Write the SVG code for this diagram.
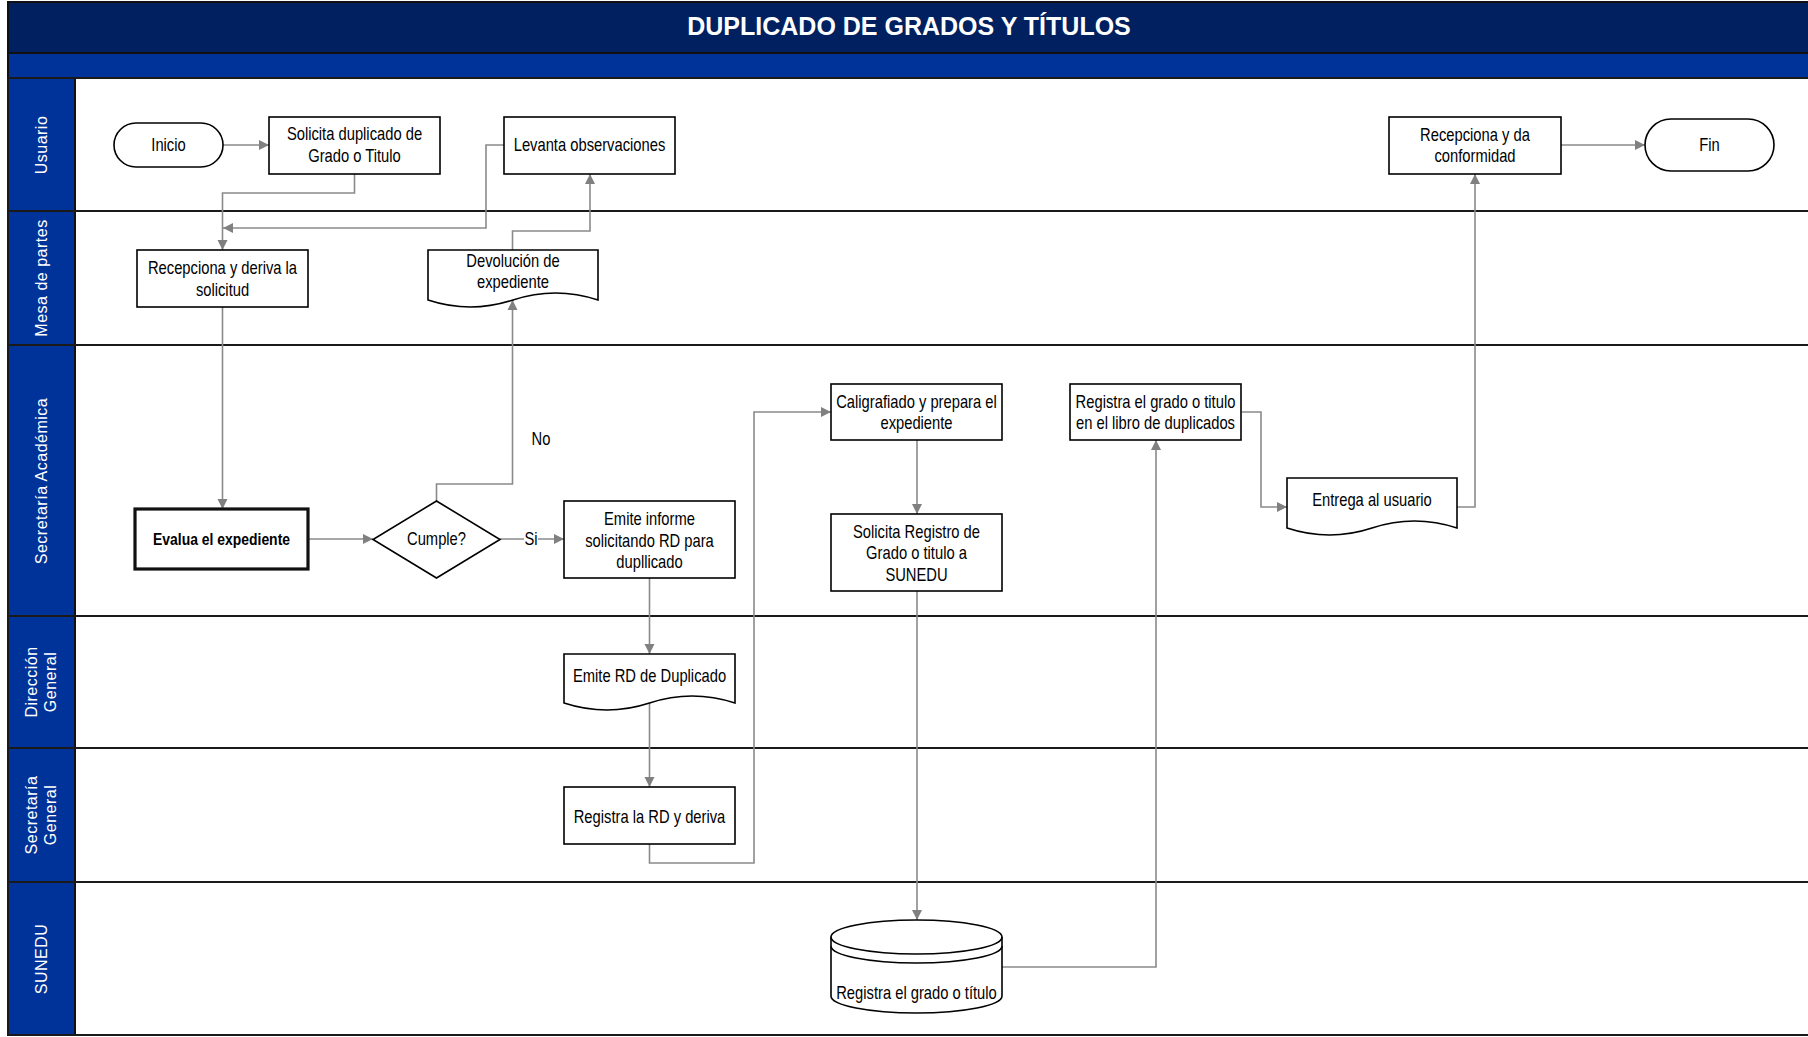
<svg xmlns="http://www.w3.org/2000/svg" width="1808" height="1037" viewBox="0 0 1808 1037">
<style>
.lane{fill:#ffffff;stroke:none}
.hdr{fill:#003399;stroke:#111;stroke-width:2}
.sep{stroke:#1a1a1a;stroke-width:2;fill:none}
.lbl{font-family:"Liberation Sans",Arial,sans-serif;font-size:16px;fill:#ffffff;letter-spacing:0.5px;text-anchor:middle}
.box{fill:#ffffff;stroke:#000;stroke-width:1.6}
.bold{fill:#ffffff;stroke:#111;stroke-width:3.2}
.t{font-family:"Liberation Sans",Arial,sans-serif;font-size:18px;fill:#000;text-anchor:middle}
.tb{font-family:"Liberation Sans",Arial,sans-serif;font-size:17px;font-weight:bold;fill:#000;text-anchor:middle}
.c{fill:none;stroke:#8a8a8a;stroke-width:1.6}
</style>
<defs>
<marker id="ar" markerUnits="userSpaceOnUse" markerWidth="12" markerHeight="12" viewBox="0 0 12 12" refX="11" refY="6" orient="auto">
<path d="M1,1 L11,6 L1,11 Z" fill="#808080"/>
</marker>
</defs>
<rect x="0" y="0" width="1808" height="1037" fill="#ffffff"/>
<g id="frame">
<rect x="8" y="2" width="1802" height="51" fill="#002060" stroke="#111" stroke-width="2"/>
<text x="909" y="35" font-family="'Liberation Sans',Arial,sans-serif" font-size="25" font-weight="bold" fill="#ffffff" text-anchor="middle">DUPLICADO DE GRADOS Y TÍTULOS</text>
<rect x="8" y="53" width="1802" height="25" fill="#003399" stroke="#111" stroke-width="2"/>
<rect x="8" y="78" width="1802" height="957" class="lane"/>
<rect x="8" y="78" width="67" height="133" class="hdr"/>
<rect x="8" y="211" width="67" height="134" class="hdr"/>
<rect x="8" y="345" width="67" height="271" class="hdr"/>
<rect x="8" y="616" width="67" height="132" class="hdr"/>
<rect x="8" y="748" width="67" height="134" class="hdr"/>
<rect x="8" y="882" width="67" height="153" class="hdr"/>
<path class="sep" d="M8 78H1808M8 211H1808M8 345H1808M8 616H1808M8 748H1808M8 882H1808M8 1035H1808M8 78V1035"/>
<text class="lbl" transform="translate(47,145) rotate(-90)">Usuario</text>
<text class="lbl" transform="translate(47,278) rotate(-90)">Mesa de partes</text>
<text class="lbl" transform="translate(47,481) rotate(-90)">Secretaría Académica</text>
<text class="lbl" transform="translate(37,682) rotate(-90)">Dirección</text>
<text class="lbl" transform="translate(56,682) rotate(-90)">General</text>
<text class="lbl" transform="translate(37,815) rotate(-90)">Secretaría</text>
<text class="lbl" transform="translate(56,815) rotate(-90)">General</text>
<text class="lbl" transform="translate(47,959) rotate(-90)">SUNEDU</text>
</g>
<g id="connectors">
<path class="c" d="M223 145H269" marker-end="url(#ar)"/>
<path class="c" d="M354.5 174V193H222.5V250" marker-end="url(#ar)"/>
<path class="c" d="M504 145H486V228H223" marker-end="url(#ar)"/>
<path class="c" d="M222.5 307V509" marker-end="url(#ar)"/>
<path class="c" d="M308 539H373" marker-end="url(#ar)"/>
<path class="c" d="M436.5 501V484H512.5V300" marker-end="url(#ar)"/>
<path class="c" d="M512.5 250V231H590V174" marker-end="url(#ar)"/>
<path class="c" d="M500 539H564" marker-end="url(#ar)"/>
<path class="c" d="M649.5 578V654" marker-end="url(#ar)"/>
<path class="c" d="M649.5 703V787" marker-end="url(#ar)"/>
<path class="c" d="M649.5 844V863H754V412H831" marker-end="url(#ar)"/>
<path class="c" d="M917 440V514" marker-end="url(#ar)"/>
<path class="c" d="M917 591V920" marker-end="url(#ar)"/>
<path class="c" d="M1002 967H1156V440" marker-end="url(#ar)"/>
<path class="c" d="M1241.5 412H1261V507H1287" marker-end="url(#ar)"/>
<path class="c" d="M1457 507H1475V174" marker-end="url(#ar)"/>
<path class="c" d="M1561 145H1645" marker-end="url(#ar)"/>
<rect x="524" y="528" width="14" height="22" fill="#ffffff"/>
<text class="t" transform="translate(531,545) scale(0.82,1)">Si</text>
<text class="t" transform="translate(541,445) scale(0.82,1)">No</text>
</g>
<g id="inicio">
<rect x="114" y="123" width="109" height="44" rx="22" class="box"/>
<text class="t" transform="translate(168.5,151) scale(0.82,1)">Inicio</text>
</g>
<g id="solicita">
<rect x="269" y="117" width="171" height="57" class="box"/>
<text class="t" transform="translate(354.5,140) scale(0.82,1)">Solicita duplicado de</text>
<text class="t" transform="translate(354.5,162) scale(0.82,1)">Grado o Titulo</text>
</g>
<g id="levanta">
<rect x="504" y="117" width="171" height="57" class="box"/>
<text class="t" transform="translate(589.5,151) scale(0.82,1)">Levanta observaciones</text>
</g>
<g id="recepciona">
<rect x="137" y="250" width="171" height="57" class="box"/>
<text class="t" transform="translate(222.5,274) scale(0.82,1)">Recepciona y deriva la</text>
<text class="t" transform="translate(222.5,296) scale(0.82,1)">solicitud</text>
</g>
<g id="devolucion">
<path class="box" d="M428 250H598V300Q555.5 286 513 300T428 300Z"/>
<text class="t" transform="translate(513,267) scale(0.82,1)">Devolución de</text>
<text class="t" transform="translate(513,288) scale(0.82,1)">expediente</text>
</g>
<g id="evalua">
<rect x="135" y="509" width="173" height="60" class="bold"/>
<text class="tb" transform="translate(221.5,545) scale(0.82,1)">Evalua el expediente</text>
</g>
<g id="cumple">
<path class="box" d="M436.5 501L500 539.5L436.5 578L373 539.5Z"/>
<text class="t" transform="translate(436.5,545) scale(0.82,1)">Cumple?</text>
</g>
<g id="emite-informe">
<rect x="564" y="501" width="171" height="77" class="box"/>
<text class="t" transform="translate(649.5,525) scale(0.82,1)">Emite informe</text>
<text class="t" transform="translate(649.5,547) scale(0.82,1)">solicitando RD para</text>
<text class="t" transform="translate(649.5,568) scale(0.82,1)">dupllicado</text>
</g>
<g id="emite-rd">
<path class="box" d="M564 654H735V703Q692 689 649.5 703T564 703Z"/>
<text class="t" transform="translate(649.5,682) scale(0.82,1)">Emite RD de Duplicado</text>
</g>
<g id="registra-rd">
<rect x="564" y="787" width="171" height="57" class="box"/>
<text class="t" transform="translate(649.5,823) scale(0.82,1)">Registra la RD y deriva</text>
</g>
<g id="caligrafiado">
<rect x="831" y="384" width="171" height="56" class="box"/>
<text class="t" transform="translate(916.5,408) scale(0.82,1)">Caligrafiado y prepara el</text>
<text class="t" transform="translate(916.5,429) scale(0.82,1)">expediente</text>
</g>
<g id="solicita-registro">
<rect x="831" y="514" width="171" height="77" class="box"/>
<text class="t" transform="translate(916.5,538) scale(0.82,1)">Solicita Registro de</text>
<text class="t" transform="translate(916.5,559) scale(0.82,1)">Grado o titulo a</text>
<text class="t" transform="translate(916.5,581) scale(0.82,1)">SUNEDU</text>
</g>
<g id="sunedu-registro">
<path class="box" d="M831 937A85.5 17 0 0 1 1002 937V996A85.5 17 0 0 1 831 996Z"/>
<path class="box" fill="none" d="M831 937A85.5 17 0 0 0 1002 937M831 946A85.5 17 0 0 0 1002 946"/>
<text class="t" transform="translate(916.5,999) scale(0.82,1)">Registra el grado o título</text>
</g>
<g id="registra-libro">
<rect x="1070" y="384" width="171" height="56" class="box"/>
<text class="t" transform="translate(1155.5,408) scale(0.82,1)">Registra el grado o titulo</text>
<text class="t" transform="translate(1155.5,429) scale(0.82,1)">en el libro de duplicados</text>
</g>
<g id="entrega">
<path class="box" d="M1287 478H1457V528Q1414.5 514 1372 528T1287 528Z"/>
<text class="t" transform="translate(1372,506) scale(0.82,1)">Entrega al usuario</text>
</g>
<g id="conformidad">
<rect x="1389" y="117" width="172" height="57" class="box"/>
<text class="t" transform="translate(1475,141) scale(0.82,1)">Recepciona y da</text>
<text class="t" transform="translate(1475,162) scale(0.82,1)">conformidad</text>
</g>
<g id="fin">
<rect x="1645" y="119" width="129" height="52" rx="26" class="box"/>
<text class="t" transform="translate(1709.5,151) scale(0.82,1)">Fin</text>
</g>
</svg>
